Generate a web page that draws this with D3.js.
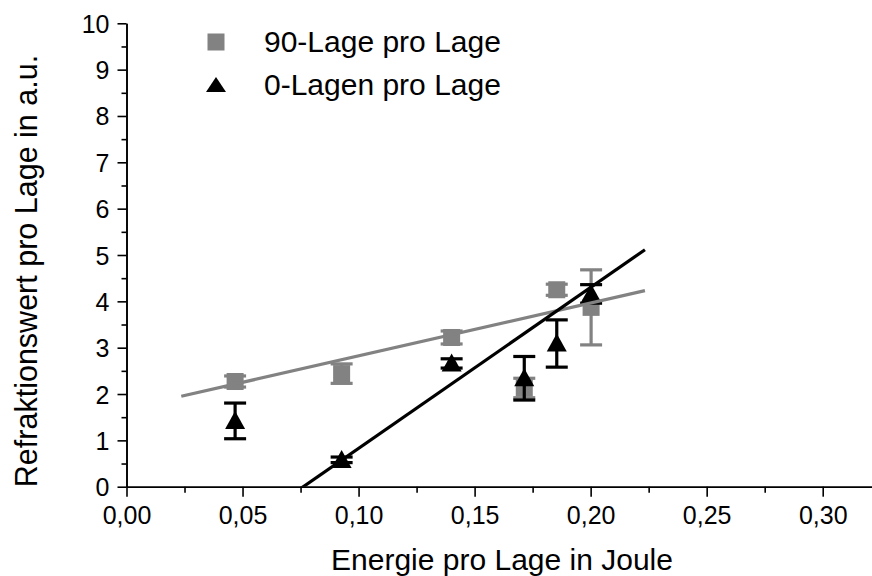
<!DOCTYPE html>
<html>
<head>
<meta charset="utf-8">
<script src="https://cdn.jsdelivr.net/npm/d3@7/dist/d3.min.js"></script>
<style>
  html, body { margin: 0; padding: 0; background: #fff; }
  svg { display: block; font-family: "Liberation Sans", Arial, sans-serif; }
</style>
</head>
<body>
<svg id="chart" width="872" height="576"></svg>
<script>
// Energie pro Lage (J)
const energy90 = [0.0468, 0.0927, 0.1401, 0.1714, 0.1854, 0.2002];
const value90  = [2.27, 2.44, 3.22, 2.13, 4.25, 3.87];
const err90    = [0.12, 0.21, 0.14, 0.21, 0.12, 0.81];

const energy0  = [0.0468, 0.0927, 0.1401, 0.1714, 0.1854, 0.2002];
const value0   = [1.42, 0.58, 2.66, 2.34, 3.09, 4.16];
const err0     = [0.385, 0.06, 0.10, 0.47, 0.51, 0.20];

// linear fits: [intercept, slope, xStart, xEnd]
const fit90 = [1.682, 11.41, 0.0236, 0.2234];
const fit0  = [-2.647, 34.74, 0.0236, 0.2234];

const xMajorTicks = [0, 0.05, 0.10, 0.15, 0.20, 0.25, 0.30];
const yMajorTicks = [0, 1, 2, 3, 4, 5, 6, 7, 8, 9, 10];

const legendLabels = ["90-Lage pro Lage", "0-Lagen pro Lage"];
const xTitle = "Energie pro Lage in Joule";
const yTitle = "Refraktionswert pro Lage in a.u.";

const grey = "#828282", black = "#000";

const svg = d3.select("#chart");
const plotL = 126.5, plotB = 486.7, plotT = 23.3, plotR = 872.5;
const x = d3.scaleLinear().domain([0, (plotR - plotL) / 2320.7]).range([plotL, plotR]);
const y = d3.scaleLinear().domain([0, 10]).range([plotB, plotT]);

const fmt = d => d3.format(".2f")(d).replace(".", ",");

// x axis
const gx = svg.append("g").attr("transform", `translate(0,${plotB})`);
gx.append("g").call(d3.axisBottom(x).tickValues(d3.range(0.025, 0.33, 0.05)).tickSize(6).tickSizeOuter(0).tickFormat(""));
gx.append("g").call(d3.axisBottom(x).tickValues(xMajorTicks).tickSize(10).tickSizeOuter(0).tickFormat(fmt));
gx.selectAll("text").attr("y", 37).attr("dy", 0).attr("font-size", 25).attr("fill", "#000");

// y axis
const gy = svg.append("g").attr("transform", `translate(${plotL},0)`);
gy.append("g").call(d3.axisLeft(y).tickValues(d3.range(0.5, 10, 1)).tickSize(5).tickSizeOuter(0).tickFormat(""));
gy.append("g").call(d3.axisLeft(y).tickValues(yMajorTicks).tickSize(9).tickSizeOuter(0).tickFormat(d3.format("d")));
gy.selectAll("text").attr("x", -17).attr("dy", "0.36em").attr("font-size", 25).attr("fill", "#000");

svg.selectAll(".domain, .tick line").attr("stroke", "#000").attr("stroke-width", 1.6);

// axis titles
svg.append("text").attr("x", 502).attr("y", 570).attr("text-anchor", "middle")
  .attr("font-size", 30).text(xTitle);
svg.append("text").attr("transform", "translate(37,271) rotate(-90)")
  .attr("text-anchor", "middle").attr("font-size", 30.5).text(yTitle);

svg.append("clipPath").attr("id", "plot")
  .append("rect").attr("x", plotL).attr("y", 0).attr("width", plotR - plotL).attr("height", plotB);

const capW = 22, sq = 17, triW = 20, triH = 18;
const triPath = (cx, cy) => `M${cx},${cy - triH * 0.55}L${cx + triW / 2},${cy + triH * 0.45}L${cx - triW / 2},${cy + triH * 0.45}Z`;

function errorBars(g, xs, vs, es, color) {
  xs.forEach((xv, i) => {
    const cx = x(xv), y1 = y(vs[i] + es[i]), y2 = y(vs[i] - es[i]);
    const e = g.append("g").attr("stroke", color).attr("stroke-width", 3.2);
    e.append("line").attr("x1", cx).attr("x2", cx).attr("y1", y1).attr("y2", y2);
    e.append("line").attr("x1", cx - capW / 2).attr("x2", cx + capW / 2).attr("y1", y1).attr("y2", y1);
    e.append("line").attr("x1", cx - capW / 2).attr("x2", cx + capW / 2).attr("y1", y2).attr("y2", y2);
  });
}

const data = svg.append("g");
// 90-Lage series
errorBars(data, energy90, value90, err90, grey);
data.selectAll("rect.s90").data(energy90).join("rect").attr("class", "s90")
  .attr("x", (d, i) => x(d) - sq / 2).attr("y", (d, i) => y(value90[i]) - sq / 2)
  .attr("width", sq).attr("height", sq).attr("fill", grey);
// 0-Lagen series
errorBars(data, energy0, value0, err0, black);
data.selectAll("path.s0").data(energy0).join("path").attr("class", "s0")
  .attr("d", (d, i) => triPath(x(d), y(value0[i]))).attr("fill", black);

// fit lines
const fitLine = (f) => {
  const xs = [f[2], f[3]];
  return d3.line().x(d => x(d)).y(d => y(f[0] + f[1] * d))(xs);
};
const lines = svg.append("g").attr("clip-path", "url(#plot)").attr("fill", "none").attr("stroke-width", 3.2);
lines.append("path").attr("d", fitLine(fit90)).attr("stroke", grey);
lines.append("path").attr("d", fitLine(fit0)).attr("stroke", black);

// legend
const lg = svg.append("g");
lg.append("rect").attr("x", 216 - sq / 2).attr("y", 42 - sq / 2).attr("width", sq).attr("height", sq).attr("fill", grey);
lg.append("path").attr("d", `M216,${85 - 8}L${216 + 10},${85 + 7}L${216 - 10},${85 + 7}Z`).attr("fill", black);
lg.append("text").attr("x", 264).attr("y", 52).attr("font-size", 30).text(legendLabels[0]);
lg.append("text").attr("x", 264).attr("y", 95).attr("font-size", 30).text(legendLabels[1]);
</script>
</body>
</html>
